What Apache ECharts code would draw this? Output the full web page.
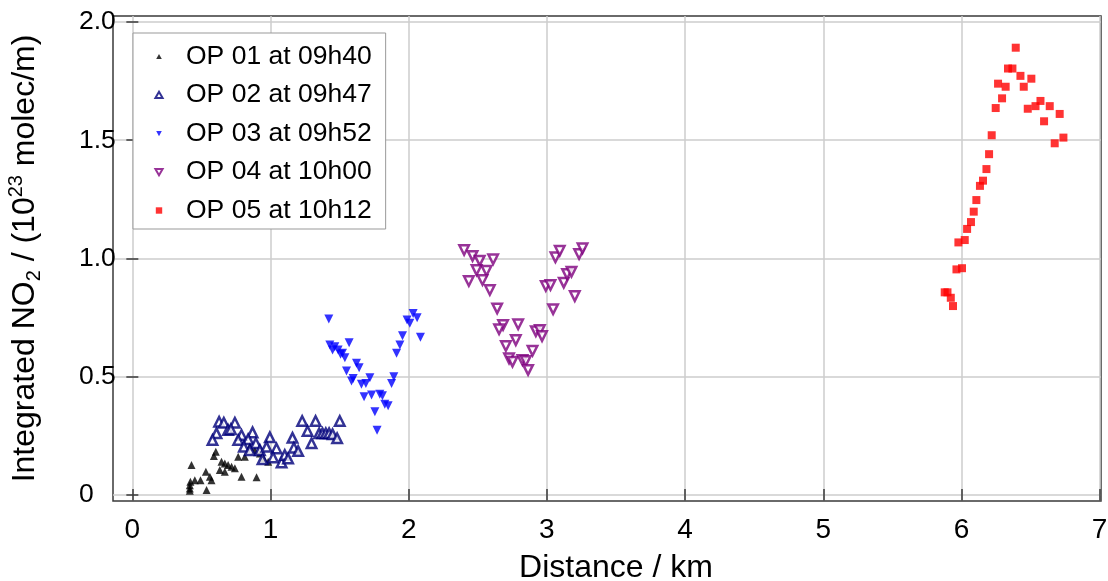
<!DOCTYPE html>
<html><head><meta charset="utf-8">
<script src="https://cdn.jsdelivr.net/npm/echarts@6/dist/echarts.min.js"></script>
<style>html,body{margin:0;padding:0;background:#fff}#c{width:1108px;height:581px}</style>
</head><body><div id="c"></div>
<script>
const seriesNames = ['OP 01 at 09h40','OP 02 at 09h47','OP 03 at 09h52','OP 04 at 10h00','OP 05 at 10h12'];
const xTicks = [0,1,2,3,4,5,6,7];
const yTicks = [0,0.5,1,1.5,2];

const op01 = [[0.416,0.018],[0.416,0.028],[0.416,0.042],[0.42,0.056],[0.428,0.127],[0.452,0.063],[0.493,0.063],
[0.532,0.099],[0.561,0.077],[0.573,0.063],[0.537,0.021],[0.604,0.183],[0.59,0.165],[0.645,0.141],[0.669,0.134],
[0.693,0.127],[0.718,0.12],[0.742,0.113],[0.633,0.106],[0.669,0.099],[0.766,0.162],[0.814,0.162],[0.79,0.077],
[0.899,0.075],[0.85,0.204],[0.886,0.19],[0.923,0.176],[0.983,0.141],[0.95,0.156]];

const op02 = [[0.628,0.310],[0.662,0.306],[0.742,0.306],[0.693,0.275],[0.713,0.278],[0.609,0.261],[0.580,0.233],
[0.790,0.254],[0.870,0.265],[0.766,0.233],[0.838,0.236],[0.807,0.204],[0.894,0.219],[0.850,0.190],[0.923,0.190],
[0.995,0.244],[0.971,0.204],[0.942,0.151],[1.043,0.197],[1.019,0.159],[1.080,0.138],[1.103,0.169],[1.127,0.155],
[1.159,0.242],[1.169,0.200],[1.200,0.186],[1.229,0.313],[1.268,0.271],[1.297,0.219],[1.326,0.313],[1.352,0.261],
[1.376,0.261],[1.400,0.261],[1.424,0.261],[1.449,0.257],[1.482,0.240],[1.501,0.313]];

const op03 = [[1.422,0.744],[1.429,0.634],[1.465,0.627],[1.449,0.613],[1.489,0.613],[1.507,0.595],[1.521,0.599],
[1.538,0.581],[1.569,0.644],[1.622,0.557],[1.641,0.538],[1.550,0.524],[1.598,0.493],[1.586,0.482],[1.658,0.468],
[1.690,0.472],[1.719,0.496],[1.677,0.416],[1.731,0.423],[1.791,0.426],[1.810,0.420],[1.827,0.384],[1.851,0.378],
[1.755,0.352],[1.771,0.274],[1.876,0.472],[1.892,0.500],[1.912,0.599],[1.936,0.634],[1.955,0.674],[1.988,0.740],
[2.008,0.726],[2.032,0.768],[2.061,0.750],[2.085,0.667]];

const op04 = [[2.401,1.036],[2.462,1.011],[2.514,0.991],[2.611,0.997],[2.491,0.951],[2.563,0.948],[2.435,0.905],
[2.534,0.909],[2.587,0.867],[2.640,0.789],[2.683,0.719],[2.654,0.701],[2.792,0.722],[2.775,0.655],[2.703,0.630],
[2.726,0.578],[2.751,0.564],[2.823,0.571],[2.847,0.567],[2.896,0.610],[2.864,0.529],[2.920,0.693],[2.949,0.698],
[2.965,0.672],[2.992,0.884],[3.026,0.888],[3.045,0.786],[3.062,1.005],[3.093,1.033],[3.122,0.898],[3.146,0.934],
[3.178,0.944],[3.202,0.841],[3.233,1.019],[3.258,1.043]];

const op05 = [[5.879,0.857],[5.899,0.857],[5.923,0.834],[5.939,0.799],[5.964,0.954],[6.004,0.959],[5.978,1.068],
[6.024,1.078],[6.041,1.125],[6.069,1.154],[6.089,1.198],[6.108,1.247],[6.134,1.307],[6.156,1.329],[6.181,1.378],
[6.200,1.441],[6.219,1.521],[6.248,1.636],[6.294,1.677],[6.265,1.739],[6.320,1.726],[6.337,1.803],[6.369,1.803],
[6.393,1.891],[6.427,1.772],[6.451,1.726],[6.506,1.760],[6.480,1.633],[6.536,1.644],[6.572,1.666],[6.598,1.580],
[6.639,1.644],[6.675,1.487],[6.711,1.611],[6.738,1.511]];

const FONT = "'Liberation Sans', Arial, Helvetica, sans-serif";
const gridCol = '#cdcdcd';
const frameCol = '#3a3a3a';

const legendIcons = [
  'path://M0,0M20,20M10,7.4L12.8,12.4L7.2,12.4Z',
  'path://M0,0M20,20M10,6.8L13.6,13L6.4,13Z',
  'path://M0,0M20,20M7.2,7.6L12.8,7.6L10,12.8Z',
  'path://M0,0M20,20M6.4,7L13.6,7L10,13.2Z',
  'path://M0,0M20,20M6.8,6.8L13.2,6.8L13.2,13.2L6.8,13.2Z'
];

const chart = echarts.init(document.getElementById('c'), null, {renderer: 'canvas'});

function ax(pos, isX) {
  return {
    type: 'value', position: pos,
    min: isX ? -0.14 : -0.025, max: isX ? 7.01 : 2.025,
    axisLine: {show: false},
    axisTick: {show: true, inside: true, length: 6, customValues: isX ? xTicks : yTicks,
      lineStyle: {color: frameCol, width: 1.5}},
    axisLabel: {show: false},
    splitLine: {show: false}
  };
}

const xMain = ax('bottom', true);
xMain.axisLabel = {show: true, customValues: xTicks, fontSize: 28, fontFamily: FONT, color: '#000', margin: 15,
  formatter: v => String(Math.round(v))};
xMain.splitLine = {show: true, lineStyle: {color: gridCol, width: 1.5}};
xMain.name = 'Distance / km';
xMain.nameLocation = 'middle';
xMain.nameGap = 51;
xMain.nameTextStyle = {fontSize: 32, fontFamily: FONT, color: '#000', padding: [0, 0, 0, 18]};

const yMain = ax('left', false);
yMain.axisLabel = {show: true, customValues: yTicks, fontSize: 26.5, fontFamily: FONT, color: '#000', margin: 34,
  align: 'left', formatter: v => (v === 0 ? '0' : v.toFixed(1))};
yMain.splitLine = {show: true, lineStyle: {color: gridCol, width: 1.5}};
yMain.name = 'Integrated NO{sub|2} / (10{sup|23} molec/m)';
yMain.nameLocation = 'middle';
yMain.nameGap = 69;
yMain.nameTextStyle = {fontSize: 32, fontFamily: FONT, color: '#000', lineHeight: 38,
  rich: {
    sub: {fontSize: 20, fontFamily: FONT, color: '#000', verticalAlign: 'bottom', lineHeight: 38},
    sup: {fontSize: 20, fontFamily: FONT, color: '#000', verticalAlign: 'top', lineHeight: 38}
  }};

const styles = [
  {symbol: 'triangle', symbolSize: 8, symbolRotate: 0, itemStyle: {color: '#000000'}},
  {symbol: 'triangle', symbolSize: 9.5, symbolRotate: 0, itemStyle: {color: '#ffffff', borderColor: '#00007a', borderWidth: 2.5}},
  {symbol: 'triangle', symbolSize: 9, symbolRotate: 180, itemStyle: {color: '#0000ff'}},
  {symbol: 'triangle', symbolSize: 9.5, symbolRotate: 180, itemStyle: {color: '#ffffff', borderColor: '#7e007e', borderWidth: 2.5}},
  {symbol: 'rect', symbolSize: 8, symbolRotate: 0, itemStyle: {color: '#ff0000'}}
];
const datasets = [op01, op02, op03, op04, op05];

const series = datasets.map((d, i) => Object.assign({
  type: 'scatter', name: seriesNames[i], data: d, xAxisIndex: 0, yAxisIndex: 0,
  emphasis: {disabled: true}, animation: false
}, styles[i]));

chart.setOption({
  animation: false,
  backgroundColor: '#ffffff',
  grid: {left: 113, right: 7, top: 16, bottom: 80, show: true, borderColor: frameCol, borderWidth: 1.5,
    backgroundColor: 'transparent', containLabel: false, outerBoundsMode: 'none'},
  xAxis: [xMain, ax('top', true)],
  yAxis: [yMain, ax('right', false)],
  legend: {
    orient: 'vertical', left: 133, top: 33,
    padding: [10, 14, 5, 15], itemGap: 11.5, itemWidth: 44, itemHeight: 20,
    backgroundColor: '#ffffff', borderColor: '#999', borderWidth: 1,
    symbolRotate: 0, symbolKeepAspect: true,
    textStyle: {fontSize: 26.5, fontFamily: FONT, color: '#000'},
    selectedMode: false,
    data: seriesNames.map((n, i) => ({name: n, icon: legendIcons[i]}))
  },
  series: series
});
</script>
</body></html>
